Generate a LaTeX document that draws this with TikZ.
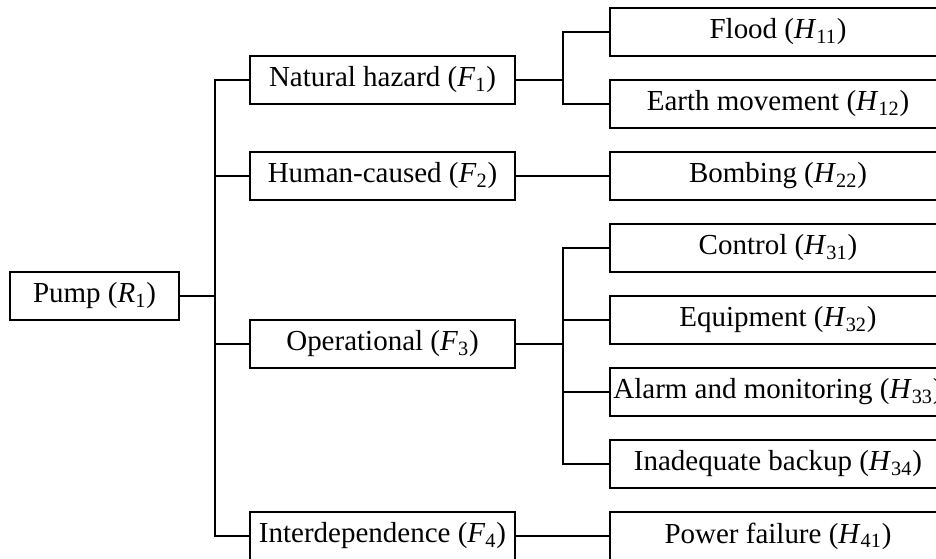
\documentclass[tikz,border=0pt]{standalone}
\usepackage{fontspec}
\setmainfont{Liberation Serif}
\newcommand{\risk}[2]{(\textit{#1}\textsubscript{#2})}
\tikzset{
  rbox/.style={draw, line width=0.9pt, minimum height=0.96cm, inner sep=0pt,
    font=\fontsize{16.5}{19}\selectfont},
  fbox/.style={rbox, minimum width=5.3cm},
  hbox/.style={rbox, minimum width=6.72cm},
  link/.style={line width=0.9pt}
}
\begin{document}
\begin{tikzpicture}[x=0.02cm,y=-0.02cm]
\useasboundingbox (0,0) rectangle (936,558);
\clip (0,0) rectangle (936,558);

\node[rbox, minimum width=3.38cm] (R1) at (94.5,296) {Pump \risk{R}{1}};

\node[fbox] (F1) at (382.5,80) {Natural hazard \risk{F}{1}};
\node[fbox] (F2) at (382.5,176) {Human-caused \risk{F}{2}};
\node[fbox] (F3) at (382.5,344) {Operational \risk{F}{3}};
\node[fbox] (F4) at (382.5,536) {Interdependence \risk{F}{4}};

\node[hbox] (H11) at (778,32) {Flood \risk{H}{11}};
\node[hbox] (H12) at (778,104) {Earth movement \risk{H}{12}};
\node[hbox] (H22) at (778,176) {Bombing \risk{H}{22}};
\node[hbox] (H31) at (778,248) {Control \risk{H}{31}};
\node[hbox] (H32) at (778,320) {Equipment \risk{H}{32}};
\node[hbox] (H33) at (778,392) {Alarm and monitoring \risk{H}{33}};
\node[hbox] (H34) at (778,464) {Inadequate backup \risk{H}{34}};
\node[hbox] (H41) at (778,536) {Power failure \risk{H}{41}};

\coordinate (j0) at (215,296);
\coordinate (j1) at (563,80);
\coordinate (j3) at (563,344);

\draw[link] (R1.east) -- (j0);
\foreach \f in {F1,F2,F3,F4}
  \draw[link] (\f.west) -| (j0);

\draw[link] (F1.east) -- (j1);
\draw[link] (H11.west) -| (j1);
\draw[link] (H12.west) -| (j1);
\draw[link] (F2.east) -- (H22.west);
\draw[link] (F3.east) -- (j3);
\foreach \h in {H31,H32,H33,H34}
  \draw[link] (\h.west) -| (j3);
\draw[link] (F4.east) -- (H41.west);
\end{tikzpicture}
\end{document}
